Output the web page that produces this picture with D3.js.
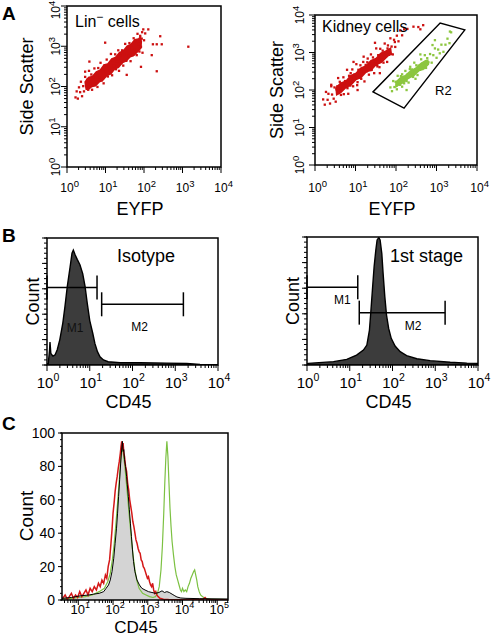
<!DOCTYPE html>
<html><head><meta charset="utf-8">
<script src="https://cdn.jsdelivr.net/npm/d3@7"></script>
<style>body{margin:0;background:#fff}svg text{font-family:"Liberation Sans",Arial,Helvetica,sans-serif;fill:#000}</style>
</head><body><script>
// ================= DATA =================
const decadeExp = [0, 1, 2, 3, 4];          // tick labels 10^n, panels A and B
const cDecadeExp = [1, 2, 3, 4, 5];         // tick labels 10^n, panel C
const cCountTicks = [0, 20, 40, 60, 80, 100];

// Panel A (left) Lin- cells: [log10 EYFP, log10 Side Scatter]
const linCore = [[0.45,2.12],[0.55,2.24],[0.65,2.27],[0.75,2.38],[0.85,2.42],[0.95,2.55],[1.05,2.58],[1.15,2.70],[1.25,2.74],[1.35,2.86],[1.45,2.90],[1.55,3.02],[1.65,3.06],[1.75,3.18],[1.85,3.20],[1.92,3.28],[1.95,3.12],[1.94,2.95],[1.85,2.86],[1.75,2.76],[1.65,2.72],[1.55,2.62],[1.45,2.58],[1.35,2.46],[1.25,2.42],[1.15,2.30],[1.05,2.26],[0.95,2.15],[0.85,2.10],[0.75,2.00],[0.65,1.98],[0.55,1.90],[0.48,1.92]];
const linPts = [[0.22,1.73],[0.25,1.88],[0.28,1.70],[0.31,1.98],[0.34,1.86],[0.36,2.12],[0.39,1.76],[0.42,2.01],[0.44,1.88],[0.47,2.24],[0.50,2.01],[0.52,2.17],[0.55,1.92],[0.57,2.39],[0.60,2.03],[0.63,2.30],[0.65,1.92],[0.68,2.22],[0.71,2.45],[0.73,2.06],[0.76,2.32],[0.79,1.99],[0.81,2.46],[0.84,2.23],[0.87,2.59],[0.90,2.15],[0.92,2.42],[0.95,2.08],[0.98,2.53],[1.00,2.38],[1.03,2.67],[1.06,2.25],[1.08,2.51],[1.11,2.39],[1.14,2.81],[1.17,2.28],[1.19,2.66],[1.22,2.51],[1.25,2.80],[1.27,2.43],[1.30,2.63],[1.33,2.90],[1.35,2.39],[1.38,2.77],[1.41,2.58],[1.43,2.90],[1.46,2.52],[1.49,2.80],[1.51,3.06],[1.54,2.64],[1.57,2.95],[1.59,2.76],[1.62,3.08],[1.65,2.63],[1.67,2.96],[1.70,2.78],[1.73,3.20],[1.75,2.92],[1.78,3.13],[1.81,2.78],[1.83,3.31],[1.86,3.06],[1.88,2.87],[1.90,3.26],[1.92,2.99],[1.94,3.19],[1.95,3.35],[1.96,2.84],[0.99,3.09],[2.03,3.32],[2.11,3.42],[2.42,3.25],[2.46,3.05],[2.33,3.05],[2.23,3.05],[2.20,2.78],[2.33,2.38],[3.15,2.99],[1.92,2.49],[1.55,2.29],[0.58,2.62],[0.47,2.37],[2.00,3.15],[1.98,3.42]];

// Panel A (right) Kidney cells
const kidRedCore = [[0.50,2.06],[0.62,2.20],[0.75,2.25],[0.87,2.40],[1.00,2.46],[1.12,2.60],[1.25,2.66],[1.37,2.80],[1.50,2.86],[1.62,3.00],[1.75,3.06],[1.88,3.15],[1.90,2.98],[1.78,2.86],[1.65,2.72],[1.52,2.66],[1.40,2.52],[1.27,2.46],[1.15,2.32],[1.02,2.26],[0.90,2.12],[0.77,2.05],[0.65,1.92],[0.52,1.84]];
const kidRedPts = [[0.20,1.75],[0.24,1.61],[0.27,1.95],[0.31,1.74],[0.33,1.90],[0.37,1.64],[0.40,2.14],[0.42,1.88],[0.46,1.77],[0.48,2.07],[0.51,1.69],[0.53,2.02],[0.57,2.32],[0.59,1.92],[0.61,2.22],[0.64,1.87],[0.66,2.10],[0.70,2.34],[0.71,1.89],[0.74,2.24],[0.77,2.09],[0.79,2.54],[0.82,1.90],[0.84,2.38],[0.87,2.12],[0.90,2.31],[0.92,2.55],[0.94,2.10],[0.97,2.41],[1.00,2.32],[1.02,2.69],[1.04,2.13],[1.07,2.54],[1.10,2.33],[1.12,2.66],[1.14,2.30],[1.17,2.50],[1.20,2.89],[1.22,2.23],[1.25,2.67],[1.27,2.50],[1.30,2.84],[1.33,2.41],[1.35,2.70],[1.38,2.95],[1.40,2.54],[1.43,2.87],[1.46,2.45],[1.48,2.77],[1.51,3.11],[1.53,2.67],[1.56,2.93],[1.59,2.61],[1.61,3.10],[1.64,2.82],[1.67,3.05],[1.69,2.73],[1.72,3.24],[1.75,2.97],[1.78,2.75],[1.80,3.19],[1.83,2.94],[1.86,3.38],[1.89,3.16],[1.92,2.95],[1.95,3.34],[1.98,3.15],[2.02,3.45],[2.06,3.30],[2.10,3.59],[2.15,3.46],[2.20,3.62],[2.28,3.63],[2.43,3.69],[2.55,3.68],[2.60,3.62],[2.67,3.73],[1.48,3.26],[1.19,2.75],[0.95,2.75],[0.40,2.10],[1.05,2.00],[1.60,2.45],[0.55,2.10],[0.63,2.03],[0.72,2.19],[0.80,2.05],[0.88,2.45],[0.96,2.32],[1.05,2.21],[1.13,2.54],[1.21,2.50],[1.29,2.74],[1.37,2.53],[1.45,2.77],[1.54,2.63],[1.62,2.94],[1.70,2.88],[1.79,3.11],[1.88,2.96],[1.97,3.28]];
const kidGreenCore = [[1.98,2.22],[2.10,2.34],[2.22,2.40],[2.35,2.53],[2.48,2.60],[2.60,2.72],[2.72,2.80],[2.80,2.82],[2.82,2.68],[2.70,2.55],[2.58,2.50],[2.45,2.37],[2.32,2.30],[2.20,2.19],[2.08,2.12],[1.98,2.05]];
const kidGreenPts = [[1.86,2.07],[1.90,1.97],[1.93,2.24],[1.96,2.08],[1.99,2.22],[2.02,2.02],[2.04,2.38],[2.07,2.23],[2.10,2.14],[2.12,2.37],[2.15,2.09],[2.18,2.35],[2.20,2.28],[2.23,2.51],[2.26,2.24],[2.28,2.41],[2.31,2.20],[2.34,2.56],[2.36,2.38],[2.39,2.55],[2.42,2.35],[2.45,2.73],[2.47,2.52],[2.50,2.66],[2.53,2.40],[2.56,2.65],[2.59,2.54],[2.62,2.82],[2.65,2.56],[2.68,2.71],[2.71,2.93],[2.74,2.59],[2.77,2.85],[2.80,2.74],[2.84,2.96],[2.88,2.73],[2.92,2.93],[2.96,3.11],[3.00,2.86],[3.04,3.08],[3.08,2.98],[3.12,3.21],[3.17,3.02],[3.22,3.21],[3.27,3.37],[3.32,3.25],[3.36,3.54],[2.26,2.00],[2.02,2.13],[2.35,2.62],[2.15,2.42],[2.48,2.30],[2.60,2.95],[2.90,3.20],[3.33,3.56],[2.96,3.33],[2.40,2.45],[2.30,2.33],[2.20,2.18],[2.52,2.58],[2.65,2.70],[2.10,2.28]];
// R2 gate vertices [EYFP, SSC]
const r2Gate = [[27,89],[158,33],[5000,4000],[1230,6100]];

// Panel B histograms: [log10 CD45, count (% of scale)]
const isoHist = [[0.00,1],[0.03,1.3],[0.06,12],[0.07,18],[0.09,9],[0.14,7],[0.19,8],[0.24,12],[0.30,20],[0.37,33],[0.42,46],[0.475,62],[0.54,77],[0.585,88],[0.616,90.5],[0.655,87],[0.71,83],[0.77,79],[0.835,72],[0.89,62],[0.94,49],[1.00,35],[1.07,25],[1.12,17],[1.18,10.5],[1.24,6.5],[1.32,4],[1.43,2.6],[1.71,1.8],[2.18,1.8],[2.80,1.5],[3.27,1.2],[3.58,0.5],[4.00,0.3]];
const stageHist = [[0.00,1],[0.03,1.3],[0.62,2.6],[0.93,4.4],[1.16,7.8],[1.32,11.7],[1.40,15.6],[1.46,27],[1.49,40],[1.53,58.6],[1.57,76.8],[1.61,89.8],[1.64,97.7],[1.68,99.5],[1.71,97.7],[1.75,87],[1.78,71.6],[1.82,53.4],[1.86,39],[1.91,28.6],[1.97,20.8],[2.06,14.8],[2.18,10.4],[2.33,7.3],[2.57,4.9],[2.88,3.4],[3.35,2.1],[3.74,1.5],[4.00,1.3]];
const isoMarkers = [{name:"M1", from:1, to:14.8, level:61}, {name:"M2", from:19, to:1550, level:47.8}];
const stageMarkers = [{name:"M1", from:1, to:15.4, level:60.7}, {name:"M2", from:16.7, to:1700, level:40.9}];

// Panel C overlays: [log10 CD45, Count]
const cGray = [[0.53,1],[0.80,1.5],[1.06,2.5],[1.30,3],[1.44,3.5],[1.60,4],[1.73,5],[1.80,7],[1.87,9],[1.92,12],[1.97,17],[2.02,25],[2.06,34],[2.10,43],[2.13,52],[2.16,62],[2.19,72],[2.22,82],[2.24,88],[2.26,93],[2.27,95],[2.29,89],[2.31,90],[2.33,84],[2.36,80],[2.39,74],[2.41,69],[2.44,62],[2.47,54],[2.50,46],[2.53,38],[2.56,30],[2.59,23],[2.63,17],[2.69,12],[2.76,9],[2.83,7],[2.92,6],[3.02,5],[3.12,4.5],[3.22,4],[3.32,4.5],[3.41,5.5],[3.48,4.5],[3.55,5],[3.62,4.5],[3.70,3.5],[3.78,2.5],[3.84,1.8],[3.95,1.2],[4.10,1],[4.50,0.8],[5.31,0.6]];
const cRed = [[0.55,1],[0.62,3],[0.68,0.5],[0.74,2],[0.80,4],[0.86,1],[0.92,3],[0.98,1.5],[1.04,5],[1.10,2],[1.16,4],[1.22,6],[1.28,3],[1.34,7],[1.40,5],[1.46,8],[1.52,6],[1.58,10],[1.63,8],[1.68,12],[1.73,10],[1.78,15],[1.82,13],[1.86,20],[1.90,24],[1.94,34],[1.97,42],[2.00,52],[2.03,58],[2.06,65],[2.09,70],[2.12,74],[2.15,79],[2.18,83],[2.21,88],[2.23,92],[2.25,95],[2.27,90],[2.29,94],[2.31,88],[2.33,86],[2.36,80],[2.39,77],[2.42,70],[2.45,66],[2.48,60],[2.51,56],[2.54,52],[2.57,47],[2.60,44],[2.63,40],[2.66,36],[2.69,34],[2.72,31],[2.75,29],[2.78,28],[2.81,24],[2.84,23],[2.87,20],[2.90,19],[2.93,17],[2.96,15],[2.99,13],[3.02,14],[3.05,11],[3.08,9],[3.11,8],[3.14,10],[3.17,6],[3.20,4],[3.23,5],[3.26,3],[3.30,2],[3.35,1],[3.45,0.5],[3.60,0.3],[4.00,0.2],[4.60,0.5],[4.65,1.5],[4.70,0.3],[5.31,0.2]];
const cGreen = [[0.55,0.5],[0.80,1],[1.00,1.5],[1.20,2],[1.40,3],[1.60,5],[1.75,7],[1.85,11],[1.92,16],[1.98,24],[2.03,33],[2.08,45],[2.13,58],[2.18,72],[2.22,84],[2.25,90],[2.27,91],[2.30,87],[2.34,80],[2.38,71],[2.42,62],[2.46,52],[2.50,43],[2.54,34],[2.58,26],[2.63,18],[2.68,12],[2.75,7],[2.85,4],[2.95,3],[3.05,2],[3.15,1.5],[3.22,2],[3.28,4],[3.33,8],[3.38,18],[3.42,32],[3.46,52],[3.49,70],[3.52,85],[3.55,95],[3.58,86],[3.61,70],[3.64,55],[3.67,44],[3.70,35],[3.74,27],[3.78,20],[3.82,15],[3.86,12],[3.90,9],[3.94,6],[3.97,5],[4.00,7],[4.04,5],[4.08,6],[4.12,5],[4.16,8],[4.20,10],[4.24,13],[4.28,15],[4.32,17],[4.35,18],[4.38,15],[4.41,12],[4.44,8],[4.48,5],[4.52,3],[4.58,2],[4.66,1],[4.80,0.5],[5.31,0.3]];

// ================= DRAWING =================
const E = v => Math.pow(10, v);
const RED = "#cc1010", GREEN = "#8cc63f";
const svg = d3.select("body").append("svg").attr("width", 496).attr("height", 638);
let clipId = 0;

function frame(g, xs, ys) {
  const [x0, x1] = xs.range(), [y0, y1] = ys.range();
  g.append("rect").attr("x", x0).attr("y", y1).attr("width", x1 - x0).attr("height", y0 - y1)
    .attr("fill", "none").attr("stroke", "#000").attr("stroke-width", 1.5);
}
function clipFor(g, xs, ys) {
  const id = "clip" + (clipId++);
  const [x0, x1] = xs.range(), [y0, y1] = ys.range();
  svg.append("clipPath").attr("id", id).append("rect").attr("x", x0).attr("y", y1).attr("width", x1 - x0).attr("height", y0 - y1);
  return g.append("g").attr("clip-path", `url(#${id})`);
}
function logTicks(scale) {
  const [a, b] = scale.domain();
  const lo = Math.floor(Math.log10(a)), hi = Math.ceil(Math.log10(b));
  const maj = [], min = [];
  for (let d = lo; d <= hi; d++) {
    const v = E(d);
    if (v >= a * 0.999 && v <= b * 1.001) maj.push(v);
    for (let k = 2; k < 10; k++) { const m = k * v; if (m >= a && m <= b) min.push(m); }
  }
  return { maj, min };
}
function xTicks(g, xs, y0, vals, len) {
  g.selectAll(null).data(vals).join("line").attr("x1", d => xs(d)).attr("x2", d => xs(d))
    .attr("y1", y0).attr("y2", y0 + len).attr("stroke", "#000").attr("stroke-width", 1);
}
function yTicks(g, ys, x0, vals, len) {
  g.selectAll(null).data(vals).join("line").attr("y1", d => ys(d)).attr("y2", d => ys(d))
    .attr("x1", x0).attr("x2", x0 - len).attr("stroke", "#000").attr("stroke-width", 1);
}
function powLabel(g, x, y, exp, size, sup, anchor, rot) {
  const t = g.append("text").attr("font-size", size).attr("text-anchor", anchor);
  if (rot) t.attr("transform", `translate(${x},${y}) rotate(-90)`); else t.attr("x", x).attr("y", y);
  t.append("tspan").text("10");
  t.append("tspan").attr("font-size", sup).attr("dy", -size * 0.45).text(exp);
}
function label(g, x, y, s, size, opts = {}) {
  const t = g.append("text").attr("font-size", size).attr("text-anchor", opts.anchor || "middle").text(s);
  if (opts.rot) t.attr("transform", `translate(${x},${y}) rotate(-90)`); else t.attr("x", x).attr("y", y);
  if (opts.bold) t.attr("font-weight", "bold");
  if (opts.fill) t.style("fill", opts.fill);
  return t;
}
function cloud(g, xs, ys, core, pts, color) {
  g.append("path").datum(core)
    .attr("d", d3.line().x(d => xs(E(d[0]))).y(d => ys(E(d[1]))).curve(d3.curveLinearClosed))
    .attr("fill", color);
  g.selectAll(null).data(pts).join("rect")
    .attr("x", d => xs(E(d[0])) - 1.1).attr("y", d => ys(E(d[1])) - 1.1)
    .attr("width", 2.3).attr("height", 2.3).attr("fill", color);
}

// ---------- Panel A ----------
function scatterPanel(xr, yr, ylabX, tickLabX, drawData) {
  const xs = d3.scaleLog().domain([1, 1e4]).range(xr);
  const ys = d3.scaleLog().domain([1, 1e4]).range(yr);
  const g = svg.append("g");
  const inner = clipFor(g, xs, ys);
  drawData(inner, xs, ys);
  frame(g, xs, ys);
  const xt = logTicks(xs), yt = logTicks(ys);
  xTicks(g, xs, yr[0], xt.min, 3); xTicks(g, xs, yr[0], xt.maj, 6);
  yTicks(g, ys, xr[0], yt.min, 3); yTicks(g, ys, xr[0], yt.maj, 6);
  decadeExp.forEach(e => powLabel(g, xs(E(e)) - 6.7, 192, e, 12, 9.5, "start", false));
  decadeExp.forEach(e => powLabel(g, tickLabX, Math.max(ys(E(e)), 10), e, 12, 9.5, "middle", true));
  label(g, ylabX, (yr[0] + yr[1]) / 2, "Side Scatter", 18, { rot: true });
  label(g, (xr[0] + xr[1]) / 2 - 4, 215, "EYFP", 18);
  return { g, xs, ys };
}
const a1 = scatterPanel([67, 221], [167, 6], 33, 60, (g, xs, ys) => {
  cloud(g, xs, ys, linCore, linPts, RED);
});
const tl = a1.g.append("text").attr("x", 75).attr("y", 27).attr("font-size", 16);
tl.append("tspan").text("Lin");
tl.append("tspan").attr("font-size", 12).attr("dy", -6).text("−");
tl.append("tspan").attr("dy", 6).text(" cells");

const a2 = scatterPanel([315, 477], [165, 15], 283, 304, (g, xs, ys) => {
  cloud(g, xs, ys, kidRedCore, kidRedPts, RED);
  cloud(g, xs, ys, kidGreenCore, kidGreenPts, GREEN);
});
a2.g.append("path").datum(r2Gate)
  .attr("d", d3.line().x(d => a2.xs(d[0])).y(d => a2.ys(d[1])).curve(d3.curveLinearClosed))
  .attr("fill", "none").attr("stroke", "#000").attr("stroke-width", 1.4);
label(a2.g, 322, 32, "Kidney cells", 16, { anchor: "start" });
label(a2.g, 435, 95, "R2", 13, { anchor: "start" });

// ---------- Panel B ----------
function histPanel(xr, yr, hist, markers, title, titleX, labOff) {
  const xs = d3.scaleLog().domain([1, 1e4]).range(xr);
  const ys = d3.scaleLinear().domain([0, 100]).range(yr);
  const g = svg.append("g");
  const inner = clipFor(g, xs, ys);
  inner.append("path").datum(hist)
    .attr("d", d3.area().x(d => xs(E(d[0]))).y0(ys(0)).y1(d => ys(d[1])))
    .attr("fill", "#3c3c3c").attr("stroke", "#000").attr("stroke-width", 1.4);
  frame(g, xs, ys);
  const xt = logTicks(xs);
  xTicks(g, xs, yr[0], xt.min, 3); xTicks(g, xs, yr[0], xt.maj, 6);
  yTicks(g, ys, xr[0], d3.range(0, 101, 4), 3); yTicks(g, ys, xr[0], d3.range(0, 101, 20), 5);
  decadeExp.forEach(e => powLabel(g, xs(E(e)) + 1, 388, e, 15, 10.5, "middle", false));
  markers.forEach((m, i) => {
    const x0 = xs(m.from), x1 = xs(m.to), y = ys(m.level);
    g.append("line").attr("x1", x0).attr("x2", x1).attr("y1", y).attr("y2", y).attr("stroke", "#000").attr("stroke-width", 1.5);
    [x0, x1].forEach(x => g.append("line").attr("x1", x).attr("x2", x).attr("y1", y - 12).attr("y2", y + 12).attr("stroke", "#000").attr("stroke-width", 1.5));
    const o = labOff[i];
    label(g, (x0 + x1) / 2 + o[0], y + o[1], m.name, 12, { fill: o[2] || "#000" });
  });
  label(g, (xr[0] + xr[1]) / 2 - 4, 408, "CD45", 18);
  label(g, xr[0] - 8, (yr[0] + yr[1]) / 2, "Count", 18, { rot: true });
  label(g, titleX, 262, title, 18, { anchor: "start" });
  return g;
}
histPanel([47, 218], [365, 238], isoHist, isoMarkers, "Isotype", 117, [[3, 44, "#111"], [-3, 27]]);
histPanel([307, 478], [365, 237], stageHist, stageMarkers, "1st stage", 390, [[10, 17], [11, 17]]);

// ---------- Panel C ----------
{
  const xs = d3.scaleLog().domain([E(0.53), E(5.31)]).range([62, 228]);
  const ys = d3.scaleLinear().domain([0, 100]).range([600, 433]);
  const g = svg.append("g");
  const inner = clipFor(g, xs, ys);
  const line = d3.line().x(d => xs(E(d[0]))).y(d => ys(d[1]));
  inner.append("path").datum(cGray)
    .attr("d", d3.area().x(d => xs(E(d[0]))).y0(ys(0)).y1(d => ys(d[1])))
    .attr("fill", "#d4d4d4");
  inner.append("path").datum(cGreen).attr("d", line).attr("fill", "none").attr("stroke", "#7cc142").attr("stroke-width", 1.2);
  inner.append("path").datum(cRed).attr("d", line).attr("fill", "none").attr("stroke", "#d41818").attr("stroke-width", 1.5);
  inner.append("path").datum(cGray).attr("d", line).attr("fill", "none").attr("stroke", "#000").attr("stroke-width", 1);
  frame(g, xs, ys);
  const xt = logTicks(xs);
  xTicks(g, xs, 600, xt.min, 3); xTicks(g, xs, 600, xt.maj, 5);
  yTicks(g, ys, 62, d3.range(0, 101, 4), 2); yTicks(g, ys, 62, cCountTicks, 4);
  cCountTicks.forEach(v => label(g, 55, ys(v) + 5, v, 14, { anchor: "end" }));
  cDecadeExp.forEach(e => powLabel(g, xs(E(e)) + 2, 614, e, 13, 9, "middle", false));
  label(g, 136, 633, "CD45", 17);
  label(g, 33, 516, "Count", 19, { rot: true });
}

// ---------- Panel letters ----------
label(svg, 2, 20, "A", 19, { anchor: "start", bold: true });
label(svg, 2, 242, "B", 19, { anchor: "start", bold: true });
label(svg, 2, 430, "C", 19, { anchor: "start", bold: true });
</script></body></html>
